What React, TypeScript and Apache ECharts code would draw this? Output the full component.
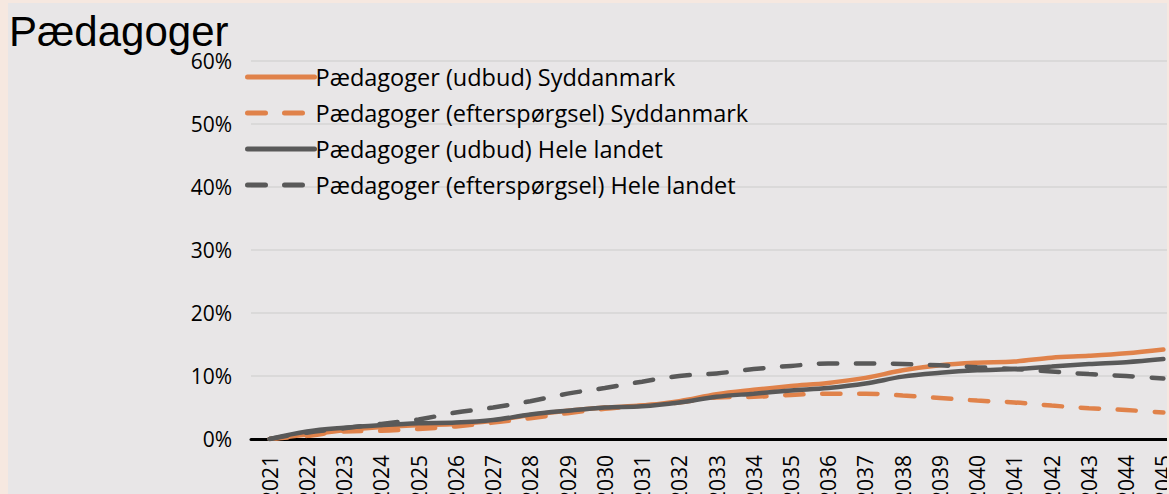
import React, { useEffect, useRef } from "react";
import * as echarts from "echarts";

const years = [
  "2021", "2022", "2023", "2024", "2025", "2026", "2027", "2028", "2029", "2030",
  "2031", "2032", "2033", "2034", "2035", "2036", "2037", "2038", "2039", "2040",
  "2041", "2042", "2043", "2044", "2045",
];

const udbudSyd = [0, 0.7, 1.4, 1.9, 2.2, 2.4, 2.9, 3.8, 4.5, 5.0, 5.3, 6.0, 7.1, 7.8, 8.4, 8.9, 9.7, 10.9, 11.7, 12.1, 12.3, 12.9, 13.2, 13.6, 14.2];
const eftSyd = [0, 0.5, 1.2, 1.3, 1.6, 2.0, 2.6, 3.3, 4.1, 4.8, 5.3, 5.8, 6.6, 6.7, 7.0, 7.2, 7.2, 6.9, 6.5, 6.1, 5.8, 5.3, 4.9, 4.6, 4.2];
const udbudLand = [0, 1.2, 1.8, 2.2, 2.5, 2.6, 3.0, 3.9, 4.5, 5.0, 5.2, 5.8, 6.7, 7.2, 7.7, 8.1, 8.8, 9.9, 10.5, 10.9, 11.1, 11.5, 11.9, 12.2, 12.7];
const eftLand = [0, 1.0, 1.7, 2.4, 3.1, 4.2, 5.0, 6.0, 7.2, 8.1, 9.1, 10.0, 10.4, 11.1, 11.6, 12.0, 12.0, 11.9, 11.7, 11.4, 11.1, 10.7, 10.3, 10.0, 9.6];

const seriesNames = [
  "Pædagoger (udbud) Syddanmark",
  "Pædagoger (efterspørgsel) Syddanmark",
  "Pædagoger (udbud) Hele landet",
  "Pædagoger (efterspørgsel) Hele landet",
];

const ORANGE = "#E0824A";
const GRAY = "#595959";
const FONT = "Open Sans";

export default function App() {
  const ref = useRef<HTMLDivElement>(null);
  useEffect(() => {
    if (!ref.current) return;
    const chart = echarts.init(ref.current, null, { renderer: "svg" });
    const mk = (name: string, data: number[], color: string, dashed: boolean) => ({
      name,
      type: "line",
      data,
      smooth: 0.35,
      symbol: "none",
      lineStyle: {
        color,
        width: 4.5,
        type: dashed ? [18, 19] : "solid",
        cap: "round",
      },
      itemStyle: { color },
    });
    chart.setOption({
      animation: false,
      backgroundColor: "#E8E6E7",
      title: {
        text: "Pædagoger",
        left: 1,
        top: 7,
        padding: 0,
        textStyle: {
          fontFamily: "Liberation Sans",
          fontSize: 42,
          fontWeight: "normal",
          color: "#000",
        },
      },
      legend: {
        orient: "vertical",
        left: 237,
        top: 62,
        padding: 0,
        itemWidth: 67,
        itemHeight: 16,
        itemGap: 12,
        itemStyle: { opacity: 0 },
        lineStyle: { width: 5, cap: "round" },
        textStyle: {
          fontFamily: FONT,
          fontSize: 23.5,
          lineHeight: 24,
          color: "#000",
          padding: [0, 0, 0, -4],
        },
        data: seriesNames,
      },
      grid: {
        left: 243,
        top: 58,
        width: 931,
        height: 378,
        outerBoundsMode: "none",
        containLabel: false,
      },
      xAxis: {
        type: "category",
        data: years,
        boundaryGap: true,
        axisLine: { lineStyle: { color: "#000", width: 3 } },
        axisTick: { show: false },
        axisLabel: {
          rotate: 90,
          margin: 16,
          interval: 0,
          fontFamily: FONT,
          fontSize: 21,
          color: "#000",
        },
      },
      yAxis: {
        type: "value",
        min: 0,
        max: 60,
        interval: 10,
        axisLine: { show: false },
        axisTick: { show: false },
        splitLine: { lineStyle: { color: "#D6D4D5", width: 1.5 } },
        axisLabel: {
          formatter: (v: number) => `${v}%`,
          margin: 19,
          fontFamily: FONT,
          fontSize: 21,
          color: "#000",
        },
      },
      series: [
        mk(seriesNames[0], udbudSyd, ORANGE, false),
        mk(seriesNames[1], eftSyd, ORANGE, true),
        mk(seriesNames[2], udbudLand, GRAY, false),
        mk(seriesNames[3], eftLand, GRAY, true),
      ],
    });
    return () => chart.dispose();
  }, []);
  return (
    <div
      style={{
        position: "fixed",
        left: 0,
        top: 0,
        width: 1169,
        height: 494,
        background: "#F6E8E0",
        overflow: "hidden",
      }}
    >
      <div
        ref={ref}
        style={{ position: "absolute", left: 8, top: 3, width: 1159, height: 491 }}
      />
    </div>
  );
}
